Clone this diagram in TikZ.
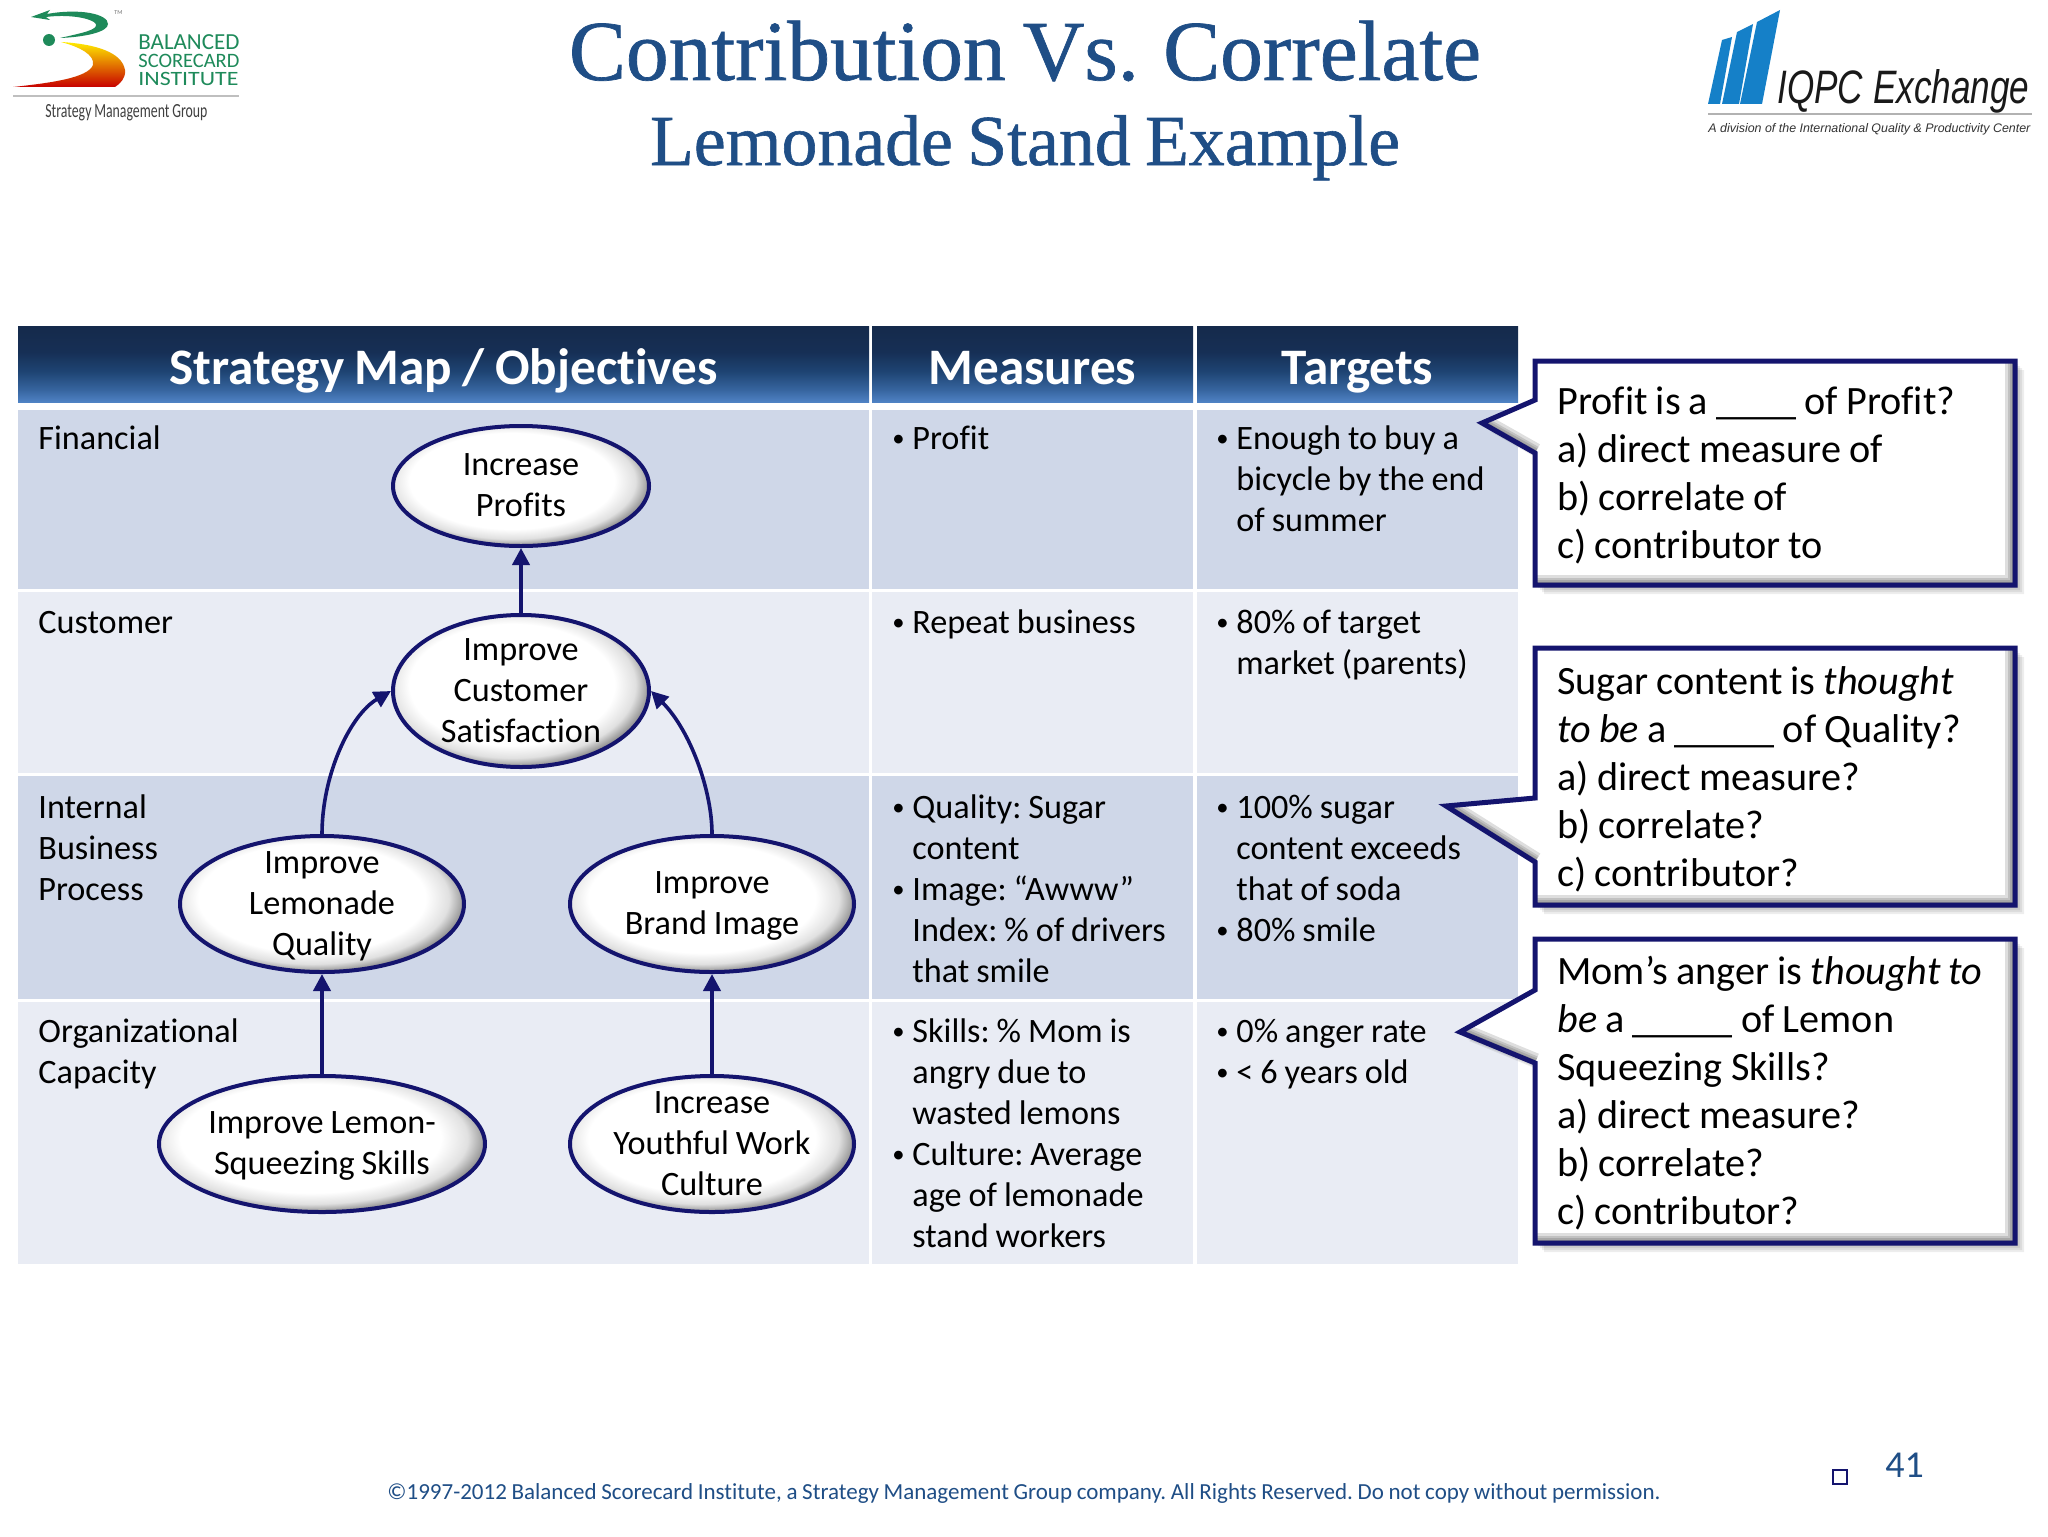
\documentclass[tikz,border=0pt]{standalone}
\usepackage{fontspec}
\usepackage{graphicx}
\usetikzlibrary{shapes.geometric,arrows.meta}
\setmainfont[WordSpace=0.9,Ligatures=NoCommon]{Carlito}
\newfontfamily\titlefont[FakeBold=0.8,WordSpace=0.8]{Liberation Serif}
\newfontfamily\logofont{Liberation Sans}
\definecolor{navy}{HTML}{14146E}
\definecolor{titleblue}{HTML}{1F4E86}
\definecolor{rowdark}{HTML}{CFD7E8}
\definecolor{rowlight}{HTML}{E9ECF4}
\definecolor{logogreen}{HTML}{1E8A5A}
\definecolor{logoblue}{HTML}{1580C8}
\definecolor{h1}{HTML}{4F82C4}
\definecolor{h2}{HTML}{37659F}
\definecolor{h3}{HTML}{1E4473}
\definecolor{h4}{HTML}{162F55}
\definecolor{h5}{HTML}{152A4B}
\pgfdeclareradialshading{bev}{\pgfpoint{-2.2bp}{2.6bp}}{color(0bp)=(white);color(20bp)=(white);color(24bp)=(white!88!black);color(27bp)=(black!45);color(100bp)=(black!45)}
\pgfdeclareverticalshading{hdr}{100bp}{color(0bp)=(h1);color(25bp)=(h1);color(33bp)=(h2);color(45bp)=(h3);color(58bp)=(h4);color(75bp)=(h5);color(100bp)=(h5)}
\newcommand\itm[1]{\hangindent=10pt\hangafter=1\noindent\strut\makebox[10pt][l]{\raisebox{.15ex}{\scalebox{.72}{•}}}#1\par}
\newcommand\gs{\rule{0pt}{16.6pt}}
\newcommand\calloutbox[6]{%
  \def\poly{(1535,#1)--(2015,#1)--(2015,#2)--(1535,#2)--(1535,#6)--(#3,#4)--(1535,#5)--cycle}%
  \foreach \s in {3,5,7,9}{\fill[black,opacity=.07,shift={(\s,\s)}] \poly;}
  \fill[white] \poly;
  \begin{scope}
    \clip \poly;
    \foreach \w in {3pt,5pt,7pt,10pt}{%
      \draw[black,opacity=.13,line width=\w] (2015,#1)--(2015,#2)--(1535,#2);
      \draw[black,opacity=.13,line width=\w] (1535,#6)--(#3,#4);}
  \end{scope}
  \draw[navy,line width=2.5pt,line join=miter] \poly;}
\tikzset{
  x=.5pt,y=-.5pt,
  head/.style={anchor=base,text=white,font=\fontsize{25.6}{30}\selectfont\bfseries\frenchspacing,inner sep=0pt},
  celltxt/.style={anchor=north west,inner sep=0pt,text width=150pt,align=flush left,font=\fontsize{17.1}{20.5}\selectfont\frenchspacing},
  goal/.style={ellipse,draw=navy,line width=2pt,shade,shading=bev,inner sep=-30pt,align=flush center,font=\fontsize{17.1}{20.5}\selectfont\frenchspacing},
  link/.style={draw=navy,line width=2pt,-{Triangle[length=8.5pt,width=8.5pt]}},
  curvelink/.style={link,line width=1.8pt},
  calltxt/.style={anchor=north west,inner sep=0pt,text width=235pt,align=flush left,font=\fontsize{20.1}{24}\selectfont\frenchspacing},
  lg/.style={anchor=base west,inner sep=0pt,text=logogreen,font=\fontsize{10.6}{12}\selectfont},
}
\begin{document}
\begin{tikzpicture}
\useasboundingbox (0,0) rectangle (2048,1536);
\fill[white] (0,0) rectangle (2048,1536);

% left logo
\fill[logogreen] (31,17) -- (50,10) -- (47,14) .. controls (80,8) and (108,14) .. (108,24) .. controls (108,32) and (85,37) .. (60,38) .. controls (82,33) and (98,30) .. (96,24) .. controls (92,18) and (68,14) .. (46,17) -- (50,20) -- cycle;
\fill[logogreen] (49,40) circle (6);
\shade[top color=yellow!85!orange,middle color=orange!80!yellow,bottom color=red!78!black,shading angle=0] (61,42) .. controls (95,44) and (122,52) .. (125,70) .. controls (126,78) and (120,84) .. (115,87) -- (13,87) .. controls (50,83) and (88,78) .. (93,65) .. controls (95,55) and (80,47) .. (61,42) -- cycle;
\draw[black!25,line width=1pt] (13,96) -- (239,96);
\node[lg] (bal) at (138,50) {\resizebox{50.5pt}{!}{BALANCED}};
\node[lg] (sco) at (138,68) {\resizebox{50.5pt}{!}{SCORECARD}};
\node[lg] (ins) at (138,86) {\resizebox{50pt}{6.6pt}{INSTITUTE}};
\node[anchor=base west,inner sep=0pt,text=black!55,font=\fontsize{3}{4}\selectfont] (tm) at (114,15) {TM};
\node[anchor=base west,inner sep=0pt,text=black!75] (smg) at (45,117) {\resizebox{81pt}{6.5pt}{Strategy Management Group}};

% right logo
\fill[logoblue] (1780,10) -- (1757,22) -- (1740,104) -- (1762,104) -- cycle;
\fill[logoblue] (1753,24) -- (1737,32) -- (1722,104) -- (1739,104) -- cycle;
\fill[logoblue] (1732,37) -- (1722,40) -- (1708,104) -- (1720,104) -- cycle;
\draw[black!30,line width=1.2pt] (1708,114) -- (2032,114);
\node[anchor=base west,inner sep=0pt,text=black!90] (iqpc) at (1777,104) {\resizebox{126pt}{17pt}{\logofont\itshape IQPC Exchange}};
\node[anchor=base west,inner sep=0pt,text=black!80] (iqpcsub) at (1708,133) {\resizebox{161pt}{!}{\logofont\itshape A division of the International  Quality \& Productivity Center}};

% title
\node[anchor=base,inner sep=0pt,text=titleblue] (title) at (1025,80) {\resizebox{456pt}{!}{\fontsize{42}{48}\selectfont\titlefont Contribution Vs. Correlate}};
\node[anchor=base,inner sep=0pt,text=titleblue] (subtitle) at (1025,165) {\resizebox{375pt}{!}{\fontsize{32}{38}\selectfont\titlefont Lemonade Stand Example}};

% table header
\shade[shading=hdr] (18,326) rectangle (869,402);
\shade[shading=hdr] (872,326) rectangle (1193,402);
\shade[shading=hdr] (1197,326) rectangle (1518,402);
\node[head] (h1n) at (443.5,384) {Strategy Map / Objectives};
\node[head] (h2n) at (1032.5,384) {Measures};
\node[head] (h3n) at (1357.5,384) {Targets};

% table rows
\foreach \ya/\yb/\c in {410/589/rowdark,592/773/rowlight,776/999/rowdark,1002/1264/rowlight}{
  \fill[\c] (18,\ya) rectangle (869,\yb);
  \fill[\c] (872,\ya) rectangle (1193,\yb);
  \fill[\c] (1197,\ya) rectangle (1518,\yb);
}
\node[celltxt] (r1) at (38,420) {\strut Financial};
\node[celltxt] (r2) at (38,604) {\strut Customer};
\node[celltxt] (r3) at (38,789) {\strut Internal\\Business\\Process};
\node[celltxt] (r4) at (38,1013) {\strut Organizational\\Capacity};

\node[celltxt] (m1) at (892,420) {\itm{Profit}};
\node[celltxt] (m2) at (892,604) {\itm{Repeat business}};
\node[celltxt] (m3) at (892,789) {\itm{Quality: Sugar\newline content}\itm{Image: “Awww”\newline Index: \% of drivers\newline that smile}};
\node[celltxt] (m4) at (892,1013) {\itm{Skills: \% Mom is\newline angry due to\newline wasted lemons}\itm{Culture: Average\newline age of lemonade\newline stand workers}};
\node[celltxt] (t1) at (1216,420) {\itm{Enough to buy a\newline bicycle by the end\newline of summer}};
\node[celltxt] (t2) at (1216,604) {\itm{80\% of target\newline market (parents)}};
\node[celltxt] (t3) at (1216,789) {\itm{100\% sugar\newline content exceeds\newline that of soda}\itm{80\% smile}};
\node[celltxt] (t4) at (1216,1013) {\itm{0\% anger rate}\itm{< 6 years old}};

% strategy map
\node[goal,minimum width=128pt,minimum height=60pt] (profits) at (521,486) {\gs Increase\\Profits\strut};
\node[goal,minimum width=128pt,minimum height=76pt] (satisf) at (521,691) {\gs Improve\\Customer\\Satisfaction\strut};
\node[goal,minimum width=142pt,minimum height=68pt] (quality) at (322,904) {\gs Improve\\Lemonade\\Quality\strut};
\node[goal,minimum width=142pt,minimum height=68pt] (brand) at (712,904) {\gs Improve\\Brand Image\strut};
\node[goal,minimum width=163pt,minimum height=68pt] (skills) at (322,1144) {\gs Improve Lemon-\\Squeezing Skills\strut};
\node[goal,minimum width=142pt,minimum height=68pt] (culture) at (712,1144) {\gs Increase\\Youthful Work\\Culture\strut};
\draw[link] (satisf.north) -- (profits.south);
\draw[link] (skills.north) -- (quality.south);
\draw[link] (culture.north) -- (brand.south);
\draw[curvelink] (quality.north) .. controls (322,775) and (350,715) .. (satisf.west);
\draw[curvelink] (brand.north) .. controls (712,790) and (690,730) .. (satisf.east);

% callouts
\calloutbox{361}{585}{1482}{423}{400}{453}
\node[calltxt] (c1) at (1557,380) {\strut Profit is a \_\_\_\_ of Profit?\\a) direct measure of\\b) correlate of\\c) contributor to};
\calloutbox{648}{905}{1446}{806}{798}{862}
\node[calltxt] (c2) at (1557,660) {\strut Sugar content is \textit{thought}\\\textit{to be} a \_\_\_\_\_ of Quality?\\a) direct measure?\\b) correlate?\\c) contributor?};
\calloutbox{939}{1243}{1460}{1032}{990}{1063}
\node[calltxt] (c3) at (1557,950) {\strut Mom’s anger is \textit{thought to}\\\textit{be} a \_\_\_\_\_ of Lemon\\Squeezing Skills?\\a) direct measure?\\b) correlate?\\c) contributor?};

% footer
\node[anchor=base,inner sep=0pt,text=titleblue,font=\fontsize{11.5}{14}\selectfont\frenchspacing] (foot) at (1024,1499) {©1997-2012 Balanced Scorecard Institute, a Strategy Management Group company. All Rights Reserved. Do not copy without permission.};
\node[draw=navy,line width=1.2pt,fill=white,minimum size=7pt,inner sep=0pt] (sq) at (1840,1477) {};
\node[anchor=base west,inner sep=0pt,text=titleblue,font=\fontsize{19}{22}\selectfont] (pg) at (1885,1477) {41};
\end{tikzpicture}
\end{document}
